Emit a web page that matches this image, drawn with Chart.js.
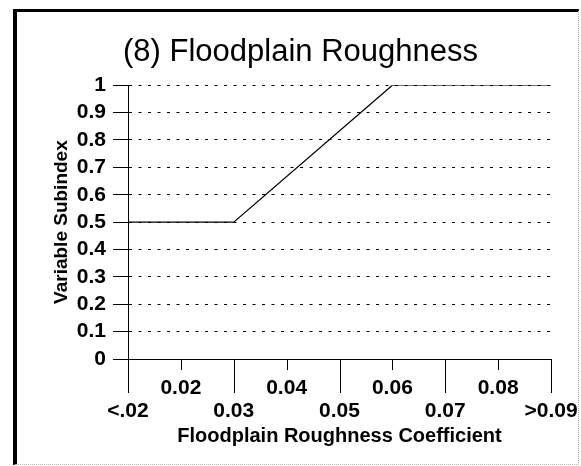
<!DOCTYPE html>
<html>
<head>
<meta charset="utf-8">
<title>Floodplain Roughness</title>
<script src="https://cdn.jsdelivr.net/npm/chart.js@4/dist/chart.umd.min.js"></script>
<style>
  html, body { margin: 0; padding: 0; background: #fff; overflow: hidden; }
  #frame {
    position: absolute; left: 13px; top: 9px; width: 566px; height: 456px;
    box-sizing: border-box;
    border-left: 4px solid #000; border-top: 3px solid #000;
    border-right: 1px dotted #aaa; border-bottom: 1px dotted #bbb;
  }
  #myChart { position: absolute; left: 0; top: 0; }
</style>
</head>
<body>
<div id="frame"></div>
<canvas id="myChart" width="581" height="466"></canvas>
<script>
// breakpoints of the subindex curve (x = roughness coefficient, "<.02" sits at 0.01)
const roughness = [0.01, 0.03, 0.06, 0.09];
const subindex = [0.5, 0.5, 1.0, 1.0];

const xTickValues = [0.01, 0.02, 0.03, 0.04, 0.05, 0.06, 0.07, 0.08, 0.09];
const xTickLabels = ['<.02', '0.02', '0.03', '0.04', '0.05', '0.06', '0.07', '0.08', '>0.09'];
const yTickValues = [0, 0.1, 0.2, 0.3, 0.4, 0.5, 0.6, 0.7, 0.8, 0.9, 1];
const yTickLabels = ['0', '0.1', '0.2', '0.3', '0.4', '0.5', '0.6', '0.7', '0.8', '0.9', '1'];

const FONT = '"Liberation Sans", Arial, sans-serif';

// long ticks under the lower labels, short ticks under the upper ones
const xTickMarks = {
  id: 'xTickMarks',
  afterDraw(chart) {
    const ctx = chart.ctx;
    const x = chart.scales.x;
    const bottom = chart.chartArea.bottom;
    ctx.save();
    ctx.strokeStyle = '#000';
    ctx.lineWidth = 1;
    xTickValues.forEach(function(v, i) {
      const px = Math.round(x.getPixelForValue(v)) + 0.5;
      ctx.beginPath();
      ctx.moveTo(px, bottom);
      ctx.lineTo(px, bottom + (i % 2 === 0 ? 34 : 11));
      ctx.stroke();
    });
    ctx.restore();
  }
};

const ctx = document.getElementById('myChart');
new Chart(ctx, {
  type: 'line',
  data: {
    datasets: [{
      data: roughness.map(function(r, i) { return { x: r, y: subindex[i] }; }),
      borderColor: '#000',
      borderWidth: 1.2,
      pointRadius: 0,
      tension: 0,
      fill: false
    }]
  },
  options: {
    responsive: false,
    animation: false,
    devicePixelRatio: 1,
    layout: { padding: { left: 50, right: 30, top: 0, bottom: 10 } },
    plugins: {
      legend: { display: false },
      tooltip: { enabled: false },
      title: {
        display: true,
        text: '(8) Floodplain Roughness',
        color: '#000',
        font: { family: FONT, size: 31, weight: 'normal', lineHeight: 1.2 },
        padding: { top: 34, bottom: 14 }
      }
    },
    scales: {
      x: {
        type: 'linear',
        min: 0.01,
        max: 0.09,
        afterBuildTicks: function(scale) {
          scale.ticks = xTickValues.map(function(v) { return { value: v }; });
        },
        afterFit: function(scale) {
          scale.height = 97;
          scale.paddingLeft = 0;
          scale.paddingRight = 0;
        },
        grid: { drawOnChartArea: false, drawTicks: false },
        border: { display: true, color: '#000', width: 1 },
        ticks: {
          color: '#000',
          maxRotation: 0,
          autoSkip: false,
          padding: 18,
          font: { family: FONT, size: 21, weight: 'bold', lineHeight: '23px' },
          callback: function(value, index) {
            return index % 2 === 1 ? [xTickLabels[index], ''] : ['', xTickLabels[index]];
          }
        },
        title: {
          display: true,
          text: 'Floodplain Roughness Coefficient',
          color: '#000',
          font: { family: FONT, size: 20, weight: 'bold', lineHeight: 1.2 },
          padding: { top: 0, bottom: 8 }
        }
      },
      y: {
        min: 0,
        max: 1,
        afterBuildTicks: function(scale) {
          scale.ticks = yTickValues.map(function(v) { return { value: v }; });
        },
        afterFit: function(scale) {
          scale.width = 78;
          scale.paddingTop = 0;
          scale.paddingBottom = 0;
        },
        grid: {
          color: '#000',
          lineWidth: 1,
          tickLength: 15,
          tickColor: '#000',
          tickWidth: 1
        },
        border: { display: true, color: '#000', width: 1, dash: [3, 6.5] },
        ticks: {
          color: '#000',
          padding: 7,
          autoSkip: false,
          font: { family: FONT, size: 21, weight: 'bold' },
          callback: function(value, index) { return yTickLabels[index]; }
        },
        title: {
          display: true,
          text: 'Variable Subindex',
          color: '#000',
          font: { family: FONT, size: 19, weight: 'bold', lineHeight: 1.2 },
          padding: { top: 0, bottom: 0 }
        }
      }
    }
  },
  plugins: [xTickMarks]
});
</script>
</body>
</html>
